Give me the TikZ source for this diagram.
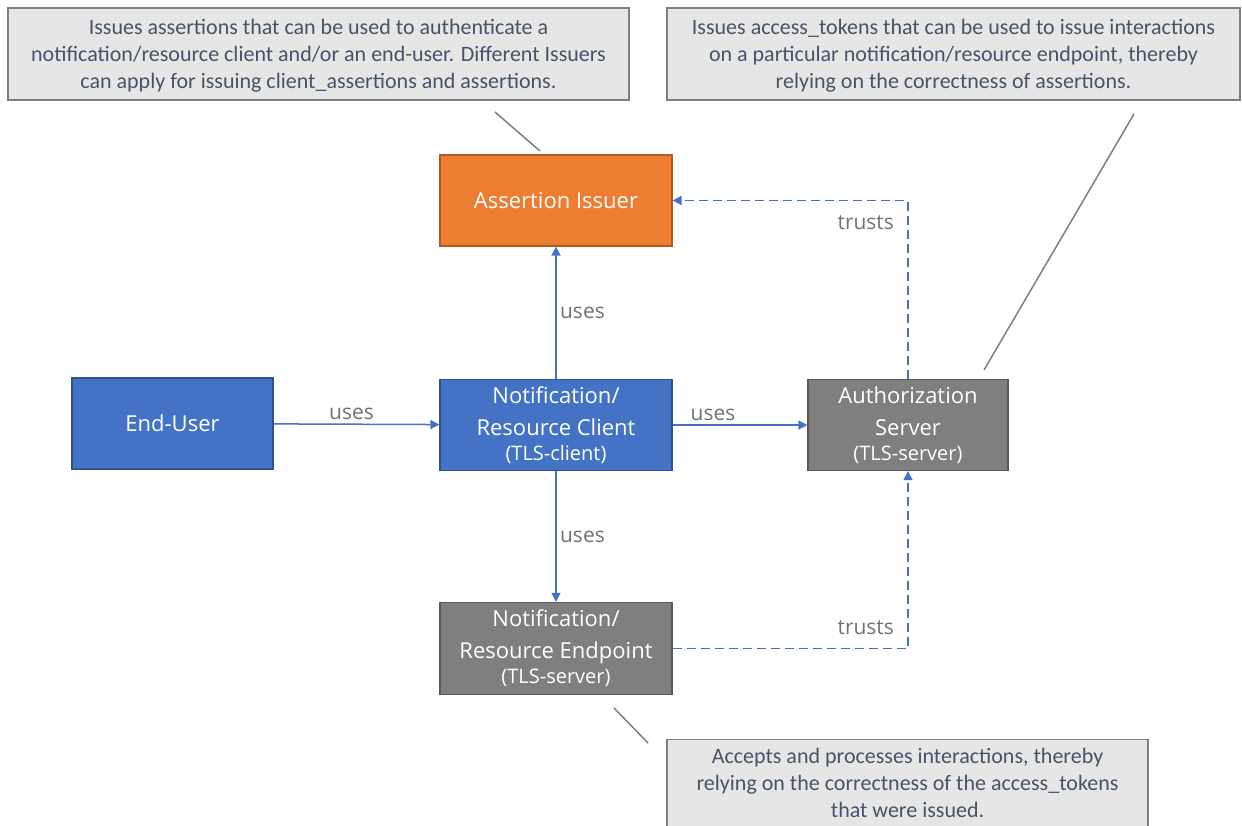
\documentclass[tikz,border=0pt]{standalone}
\usepackage{fontspec}
\setmainfont{Carlito}
\newfontfamily\boxfont{Open Sans}
\usetikzlibrary{arrows.meta}
\definecolor{cblue}{HTML}{4472C4}
\definecolor{cblueb}{HTML}{2F528F}
\definecolor{corange}{HTML}{ED7D31}
\definecolor{coranb}{HTML}{AE5A21}
\definecolor{cgrayf}{HTML}{7F7F7F}
\definecolor{cgrayb}{HTML}{595959}
\definecolor{calfill}{HTML}{E7E6E6}
\definecolor{caltext}{HTML}{44546A}
\definecolor{clbl}{HTML}{767171}
\definecolor{cline}{HTML}{7F7F7F}
\begin{document}
\begin{tikzpicture}[x=1pt,y=-1pt,
  box/.style={draw, line width=1.2pt, text=white, align=center, inner sep=0pt,
    font=\boxfont\fontsize{22}{32}\selectfont},
  bluebox/.style={box, fill=cblue, draw=cblueb},
  orangebox/.style={box, fill=corange, draw=coranb},
  graybox/.style={box, fill=cgrayf, draw=cgrayb},
  callout/.style={draw=cline, fill=calfill, line width=1.2pt, inner sep=0pt},
  callouttext/.style={text=caltext, align=center, inner sep=0pt, anchor=north,
    font=\fontsize{22}{27}\selectfont},
  arr/.style={draw=cblue, line width=1.5pt, -{Triangle[length=9pt,width=9pt]}},
  darr/.style={arr, dash pattern=on 9pt off 5pt},
  lbl/.style={text=clbl, font=\boxfont\fontsize{21}{24}\selectfont},
  callline/.style={draw=cline, line width=1.5pt}
]
\useasboundingbox (0,0) rectangle (1242,825);

% nodes
\node[orangebox, minimum width=232pt, minimum height=91pt] (issuer) at (556,200.5) {Assertion Issuer};
\node[bluebox, minimum width=201pt, minimum height=91pt] (eu) at (172.5,423.5) {End-User};
\node[bluebox, minimum width=232pt, minimum height=91pt] (client) at (556,425)
  {Notification/\\Resource Client\\[-7pt]{\fontsize{20}{22}\selectfont (TLS-client)}};
\node[graybox, minimum width=200pt, minimum height=91pt] (auth) at (908,425)
  {Authorization\\Server\\[-7pt]{\fontsize{20}{22}\selectfont (TLS-server)}};
\node[graybox, minimum width=232pt, minimum height=92pt] (endp) at (556,648.5)
  {Notification/\\Resource Endpoint\\[-7pt]{\fontsize{20}{22}\selectfont (TLS-server)}};

% callouts
\node[callout, minimum width=621pt, minimum height=92pt] (c1) at (318.5,54) {};
\node[callouttext] (c1t) at (318.5,19)
  {Issues assertions that can be used to authenticate a\\notification/resource client and/or an end-user. Different Issuers\\can apply for issuing client\_assertions and assertions.};
\node[callout, minimum width=573pt, minimum height=92pt] (c2) at (953.5,54) {};
\node[callouttext] (c2t) at (953.5,19)
  {Issues access\_tokens that can be used to issue interactions\\on a particular notification/resource endpoint, thereby\\relying on the correctness of assertions.};
\node[callout, minimum width=481pt, minimum height=112pt, anchor=north] (c3) at (907.5,739) {};
\node[callouttext] (c3t) at (907.5,748)
  {Accepts and processes interactions, thereby\\relying on the correctness of the access\_tokens\\that were issued.};

% connectors
\draw[arr] (eu) -- node[lbl, above, pos=0.47] {uses} (client);
\draw[arr] (client) -- node[lbl, above, pos=0.3] {uses} (auth);
\draw[arr] (client) -- node[lbl, right, pos=0.5] {uses} (issuer);
\draw[arr] (client) -- node[lbl, right, pos=0.5] {uses} (endp);
\draw[darr] (auth.north) |- node[lbl, pos=0.5, below left, xshift=-10pt, yshift=-11pt] {trusts} (issuer.east);
\draw[darr] (endp.east) -| node[lbl, pos=0.5, above left, xshift=-10pt, yshift=10pt] {trusts} (auth.south);

% callout pointers
\coordinate (p1a) at (495,112);
\coordinate (p1b) at (540,151);
\coordinate (p2a) at (1134,114);
\coordinate (p2b) at (984,370);
\coordinate (p3a) at (614,708);
\coordinate (p3b) at (648,743);
\draw[callline] (p1a) -- (p1b);
\draw[callline] (p2a) -- (p2b);
\draw[callline] (p3a) -- (p3b);
\end{tikzpicture}
\end{document}
